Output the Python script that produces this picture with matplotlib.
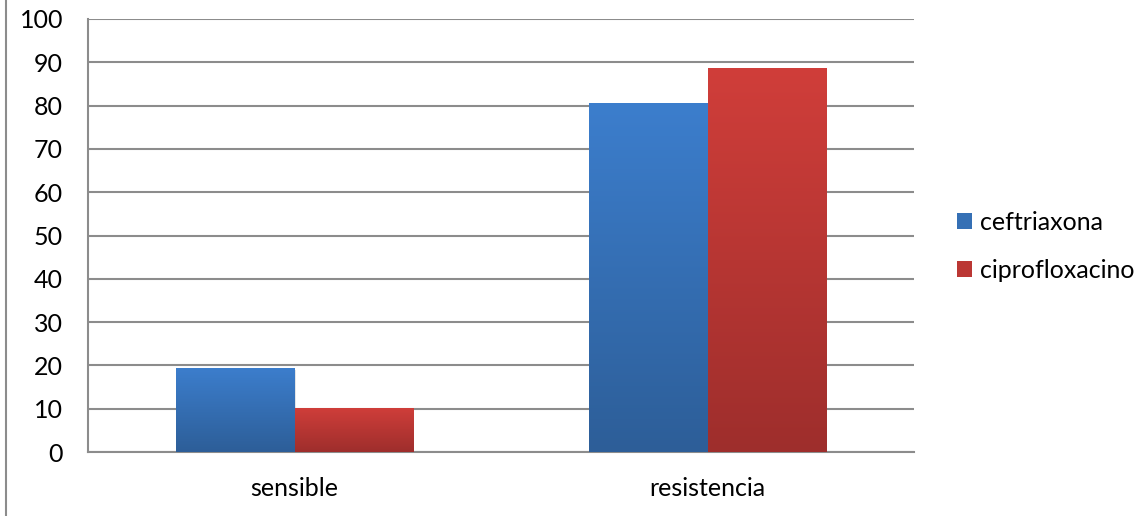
import numpy as np
import matplotlib.pyplot as plt
from matplotlib.colors import LinearSegmentedColormap
from matplotlib.patches import Rectangle
from matplotlib.lines import Line2D

categories = ["sensible", "resistencia"]
series_names = ["ceftriaxona", "ciprofloxacino"]
ceftriaxona = [19.5, 80.5]
ciprofloxacino = [10.2, 88.6]

plt.rcParams["font.family"] = ["Lato", "DejaVu Sans"]

# gradient colours (top, bottom) like the Excel fill
grads = [("#3C7ECD", "#2D5E98"), ("#D03E3A", "#9E2E2C")]
mids = ["#3570B5", "#BB3734"]

fig = plt.figure(figsize=(11.48, 5.16), dpi=100)
ax = fig.add_axes([88 / 1148, 64 / 516, 826 / 1148, 433 / 516])

x = np.arange(len(categories))
w = 0.286
grad = np.linspace(1, 0, 256).reshape(-1, 1)
for i, vals in enumerate([ceftriaxona, ciprofloxacino]):
    offs = (i - 0.5) * w
    cmap = LinearSegmentedColormap.from_list("g%d" % i, [grads[i][1], grads[i][0]])
    bars = ax.bar(x + offs, vals, w, color=mids[i], zorder=3, label=series_names[i])
    for b in bars:
        bx, by = b.get_x(), b.get_y()
        bw, bh = b.get_width(), b.get_height()
        # soft shadow
        ax.add_patch(Rectangle((bx + 0.004, by - 0.6), bw, bh, facecolor="#000000",
                               alpha=0.10, lw=0, zorder=2))
        im = ax.imshow(grad, cmap=cmap, aspect="auto", extent=[bx, bx + bw, by, by + bh],
                       zorder=4, interpolation="bicubic")
        im.set_clip_path(b)

ax.set_xlim(-0.5, 1.5)
ax.set_ylim(0, 100)
ax.set_yticks(np.arange(0, 101, 10))
ax.set_xticks(x)
ax.set_xticklabels(categories)
ax.yaxis.grid(True, color="#8C8C8C", lw=1.5, zorder=0)
ax.set_axisbelow(True)
for s in ["top", "right"]:
    ax.spines[s].set_visible(False)
for s in ["left", "bottom"]:
    ax.spines[s].set_color("#8C8C8C")
    ax.spines[s].set_linewidth(1.5)
ax.tick_params(axis="both", length=0, labelsize=18, colors="black")
ax.tick_params(axis="y", pad=18)
ax.tick_params(axis="x", pad=18)

ax.legend(loc="center left", bbox_to_anchor=(944 / 1148, (516 - 246) / 516),
          bbox_transform=fig.transFigure, frameon=False, fontsize=18,
          handlelength=0.6, handleheight=0.6, handletextpad=0.35, labelspacing=1.0,
          borderpad=0)

fig.add_artist(Line2D([5.5 / 1148, 5.5 / 1148], [0, 1], transform=fig.transFigure,
                      color="#8C8C8C", lw=1.5))

fig.savefig("out.png", dpi=100)
